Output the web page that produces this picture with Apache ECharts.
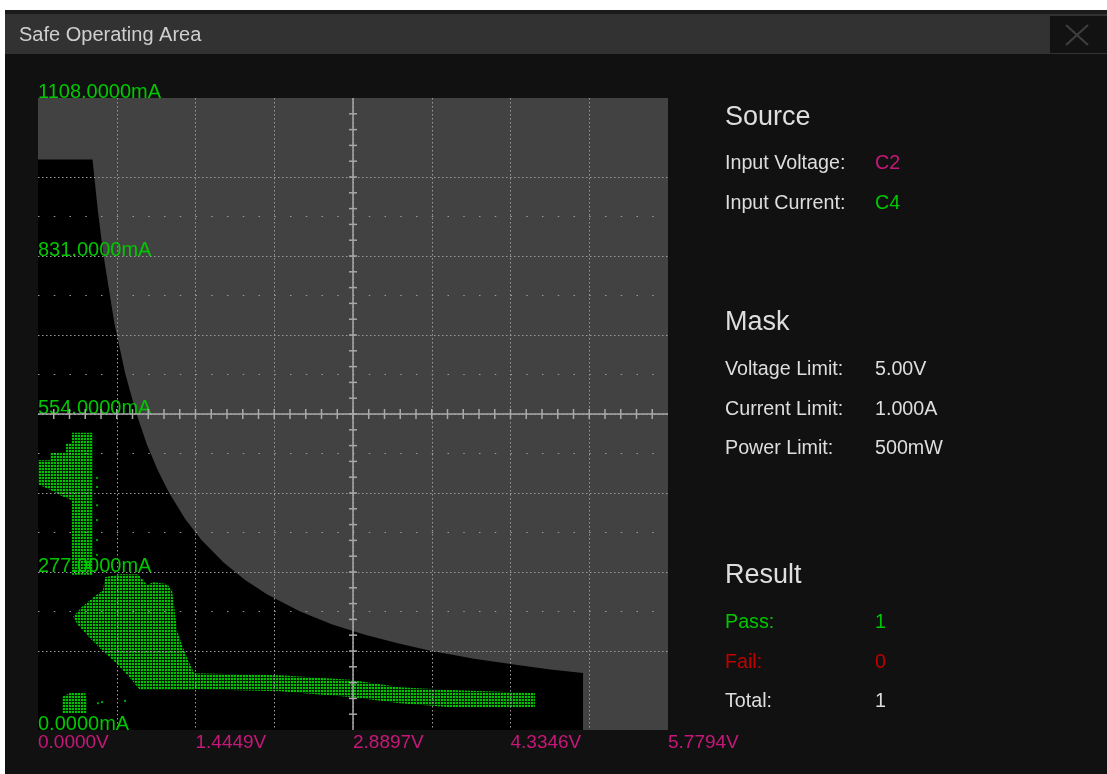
<!DOCTYPE html>
<html><head><meta charset="utf-8">
<script src="https://cdn.jsdelivr.net/npm/echarts@6/dist/echarts.min.js"></script>
<style>
html,body{margin:0;padding:0;background:#fff;width:1107px;height:774px;overflow:hidden;}
#panel{position:absolute;left:5px;top:10px;width:1102px;height:764px;background:#111;}
#strip{position:absolute;left:5px;top:10px;width:1102px;height:4px;background:#1b1b1b;}
#titlebar{position:absolute;left:5px;top:14px;width:1102px;height:40px;background:#323232;}
#closebox{position:absolute;left:1050px;top:16px;width:57px;height:37px;background:#121212;}
#chart{position:absolute;left:0;top:0;width:1107px;height:774px;}
</style></head>
<body>
<div id="panel"></div><div id="strip"></div><div id="titlebar"></div><div id="closebox"></div>
<div id="chart"></div>
<script>
// ---- data ----
const xTickLabels = ['0.0000V', '1.4449V', '2.8897V', '4.3346V', '5.7794V'];
const yTickLabels = ['0.0000mA', '277.0000mA', '554.0000mA', '831.0000mA', '1108.0000mA'];
const xMax = 5.7794;   // V
const yMax = 1108;     // mA
const xCenter = 2.8897;
const yCenter = 554;

// Mask boundary (V, mA): 1 A limit, 500 mW curve, 5 V limit
const maskBoundary = [
  [0, 1000], [0.5, 1000], [0.55, 909], [0.6, 833], [0.7, 714], [0.8, 625], [0.9, 556],
  [1.0, 500], [1.1, 455], [1.2, 417], [1.35, 370], [1.5, 333], [1.7, 294], [1.9, 263],
  [2.1, 238], [2.4, 208], [2.7, 185], [3.0, 167], [3.3, 152], [3.6, 139], [4.0, 125],
  [4.4, 114], [4.7, 106], [5.0, 100], [5.0, 0]
];

// Outlines of the measured V/I point clouds (V, mA)
const cloudUpper = [
  [0, 473], [0.110, 473], [0.110, 486], [0.257, 486], [0.257, 503], [0.312, 503],
  [0.312, 521], [0.505, 521], [0.505, 272], [0.312, 272], [0.312, 403], [0.220, 410],
  [0.110, 421], [0, 431]
];
const cloudMain = [
  [0.321, 198], [0.404, 216], [0.523, 235], [0.596, 245], [0.615, 268], [0.752, 273],
  [0.917, 273], [0.963, 263], [1.000, 254], [1.055, 259], [1.183, 256], [1.229, 245],
  [1.248, 219], [1.275, 175], [1.321, 149], [1.376, 123], [1.431, 100], [1.440, 70],
  [0.936, 70], [0.826, 95], [0.706, 119], [0.587, 140], [0.477, 161], [0.367, 184]
];
const cloudTail = [
  [1.349, 100], [2.220, 96], [2.862, 88], [3.321, 75], [3.780, 70], [4.559, 65],
  [4.559, 40], [3.780, 40], [3.321, 47], [2.862, 58], [2.220, 68], [1.349, 72]
];
const cloudSmall = [
  [0.220, 58], [0.294, 65], [0.431, 65], [0.450, 53], [0.450, 30], [0.220, 30]
];
const specks = [
  [0.541, 442], [0.541, 426], [0.541, 394], [0.541, 368], [0.541, 333], [0.541, 307],
  [0.550, 47], [0.587, 49], [0.798, 51]
];

const sourceRows = [['Input Voltage:', 'C2'], ['Input Current:', 'C4']];
const maskRows = [['Voltage Limit:', '5.00V'], ['Current Limit:', '1.000A'], ['Power Limit:', '500mW']];
const resultRows = [['Pass:', '1'], ['Fail:', '0'], ['Total:', '1']];

// ---- styles ----
const FONT = '"Liberation Sans", Arial, sans-serif';
const GREEN = '#00c800';
const MAGENTA = '#c8177a';
const RED = '#c00000';
const TXT = '#dedede';

const clouds = [cloudUpper, cloudMain, cloudTail, cloudSmall];

// dot texture for the clouds
const pat = document.createElement('canvas');
pat.width = 3; pat.height = 3;
(function () {
  const c = pat.getContext('2d');
  c.fillStyle = '#002400'; c.fillRect(0, 0, 3, 3);
  c.fillStyle = '#00c400'; c.fillRect(0, 0, 2, 2);
})();

const chart = echarts.init(document.getElementById('chart'), null, { renderer: 'canvas' });

function txt(x, y, s, color, size) {
  return { type: 'text', x: x, y: y, z: 10,
    style: { text: s, fill: color, font: size + 'px ' + FONT, align: 'left', verticalAlign: 'middle' } };
}
const g = [];
g.push(txt(19, 35, 'Safe Operating Area', '#cfcfcf', 20));
g.push({ type: 'line', z: 10, shape: { x1: 1066, y1: 25, x2: 1088, y2: 45 }, style: { stroke: '#3e3e3e', lineWidth: 2.2 } });
g.push({ type: 'line', z: 10, shape: { x1: 1088, y1: 25, x2: 1066, y2: 45 }, style: { stroke: '#3e3e3e', lineWidth: 2.2 } });
g.push(txt(725, 118, 'Source', TXT, 27));
const srcColors = [MAGENTA, GREEN];
sourceRows.forEach((r, i) => { g.push(txt(725, 164 + i * 40, r[0], TXT, 19.7)); g.push(txt(875, 164 + i * 40, r[1], srcColors[i], 19.7)); });
g.push(txt(725, 323, 'Mask', TXT, 27));
maskRows.forEach((r, i) => { g.push(txt(725, 370 + i * 39.5, r[0], TXT, 19.7)); g.push(txt(875, 370 + i * 39.5, r[1], TXT, 19.7)); });
g.push(txt(725, 576, 'Result', TXT, 27));
const resColors = [GREEN, RED, TXT];
resultRows.forEach((r, i) => { g.push(txt(725, 623 + i * 39.5, r[0], resColors[i], 19.7)); g.push(txt(875, 623 + i * 39.5, r[1], resColors[i], 19.7)); });

const option = {
  backgroundColor: 'transparent',
  animation: false,
  grid: { left: 38, top: 98, width: 630, height: 632, show: true, backgroundColor: '#424242', borderWidth: 0 },
  xAxis: {
    type: 'value', min: 0, max: xMax, interval: xMax / 8, z: 5,
    axisLine: { show: false }, axisTick: { show: false },
    splitLine: { show: true, showMinLine: false, showMaxLine: false,
      lineStyle: { color: '#9a9a9a', width: 1, type: [1.5, 2.5] } },
    axisLabel: {
      showMinLabel: true, showMaxLabel: true, align: 'left', margin: 3,
      color: MAGENTA, fontSize: 19, fontFamily: FONT,
      formatter: function (v) { const k = Math.round(v / (xMax / 8)); return k % 2 === 0 ? xTickLabels[k / 2] : ''; }
    }
  },
  yAxis: {
    type: 'value', min: 0, max: yMax, interval: yMax / 8, z: 5,
    axisLine: { show: false }, axisTick: { show: false },
    splitLine: { show: true, showMinLine: false, showMaxLine: false,
      lineStyle: { color: '#9a9a9a', width: 1, type: [1.5, 2.5] } },
    axisLabel: {
      inside: true, showMinLabel: true, showMaxLabel: true, margin: 0, verticalAlign: 'bottom',
      lineHeight: 12,
      color: GREEN, fontSize: 20, fontFamily: FONT,
      formatter: function (v) { const k = Math.round(v / (yMax / 8)); return k % 2 === 0 ? yTickLabels[k / 2] : ''; }
    }
  },
  graphic: g,
  series: [
    {
      name: 'mask', type: 'line', data: maskBoundary, symbol: 'none', silent: true, z: 1,
      lineStyle: { width: 0, color: '#000' }, areaStyle: { color: '#000', opacity: 1 }
    },
    {
      name: 'clouds', type: 'custom', silent: true, z: 2,
      data: clouds.map(c => c[0]),
      renderItem: function (params, api) {
        const poly = clouds[params.dataIndex];
        return { type: 'polygon', shape: { points: poly.map(p => api.coord(p)) },
          style: { fill: { image: pat, repeat: 'repeat' } } };
      }
    },
    {
      name: 'specks', type: 'scatter', data: specks, symbol: 'rect', symbolSize: 2, silent: true, z: 3,
      itemStyle: { color: '#00cc00' }
    },
    {
      name: 'overlay', type: 'custom', silent: true, z: 8,
      data: [[xCenter, yCenter]],
      renderItem: function (params, api) {
        const c = api.coord([api.value(0), api.value(1)]);
        const p0 = api.coord([0, 0]);
        const p1 = api.coord([xMax, yMax]);
        const ch = [];
        const cs = { stroke: '#a9a9a9', lineWidth: 1.5 };
        // sparse half-division rows
        for (let k = 1.5; k <= 6.5; k += 1) {
          const yy = api.coord([0, k * yMax / 8])[1];
          ch.push({ type: 'line', shape: { x1: p0[0], y1: yy, x2: p1[0], y2: yy },
            style: { stroke: '#9a9a9a', lineWidth: 1, lineDash: [1.5, 14.25] } });
        }
        ch.push({ type: 'line', shape: { x1: c[0], y1: p1[1], x2: c[0], y2: p0[1] }, style: cs });
        ch.push({ type: 'line', shape: { x1: p0[0], y1: c[1], x2: p1[0], y2: c[1] }, style: cs });
        for (let k = 1; k < 40; k++) {
          const xx = p0[0] + k * (p1[0] - p0[0]) / 40;
          ch.push({ type: 'line', shape: { x1: xx, y1: c[1] - 5, x2: xx, y2: c[1] + 5 }, style: cs });
          const yy = p0[1] + k * (p1[1] - p0[1]) / 40;
          ch.push({ type: 'line', shape: { x1: c[0] - 4, y1: yy, x2: c[0] + 4, y2: yy }, style: cs });
        }
        return { type: 'group', children: ch };
      }
    }
  ]
};
chart.setOption(option);
</script>
</body></html>
